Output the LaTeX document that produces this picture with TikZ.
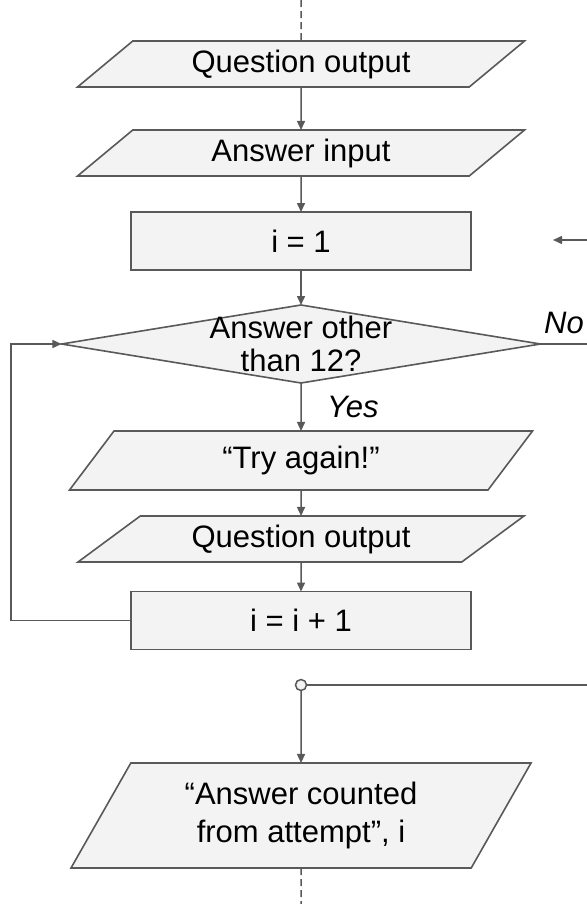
\documentclass[tikz,border=0pt]{standalone}
\usepackage{fontspec}
\setmainfont{Liberation Sans}
\usetikzlibrary{shapes.geometric,arrows.meta}
\definecolor{edgegrey}{HTML}{595959}
\definecolor{boxfill}{HTML}{F3F3F3}
\begin{document}
\begin{tikzpicture}[x=1bp,y=-1bp,
  every node/.style={font=\fontsize{31bp}{36bp}\selectfont, inner sep=0pt, outer sep=0pt},
  shapebase/.style={draw=edgegrey, fill=boxfill, line width=1.6bp},
  procbox/.style={shapebase, rectangle, minimum width=340bp, minimum height=58bp},
  iobox/.style n args={4}{shapebase, trapezium, trapezium stretches body,
    trapezium left angle=#1, trapezium right angle=#2,
    minimum width=#3, minimum height=#4, align=center},
  decision/.style={shapebase, diamond, minimum width=479bp, minimum height=78bp},
  wire/.style={draw=edgegrey, line width=1.5bp},
  conn/.style={wire, -{Triangle[length=9bp,width=8bp]}},
  dashwire/.style={wire, dash pattern=on 7bp off 4bp},
  tag/.style={font=\fontsize{31bp}{36bp}\selectfont\itshape}
]
\useasboundingbox (0,0) rectangle (587,904);

% main column of steps
\node[iobox={27.6}{152.4}{447bp}{46bp}] (qout1) at (301,64) {Question output};
\node[iobox={27.6}{152.4}{447bp}{46bp}] (ain) at (301,153) {Answer input};
\node[procbox] (init) at (301,241) {i = 1};
\node[decision] (test) at (301,344) {};
\node[align=center, font=\fontsize{31bp}{33bp}\selectfont] (testtext) at (301,344) {Answer other\\than 12?};
\node[iobox={33}{147}{463bp}{59bp}] (retry) at (301,460.5) {“Try again!”};
\node[iobox={24.9}{155.1}{446bp}{46bp}] (qout2) at (301,539) {Question output};
\node[procbox] (incr) at (301,620.5) {i = i + 1};
\node[circle, shapebase, line width=1.5bp, minimum size=11bp] (join) at (301,685) {};
\node[iobox={48.2}{131.8}{460bp}{105bp}, font=\fontsize{31bp}{38bp}\selectfont] (result) at (301,815.5) {“Answer counted\\from attempt”, i};

% loose ends at the edges
\coordinate (topin) at (301,0);
\coordinate (botout) at (301,904);
\coordinate (sidein) at (587,240);
\coordinate (sidetip) at (553,240);
\coordinate (noout) at (587,344);
\coordinate (joinout) at (587,685);
\coordinate (loopbot) at (11,620.5);
\coordinate (looptop) at (11,344);

% branch labels
\node[tag, anchor=west] (yeslab) at (327,407) {Yes};
\node[tag] (nolab) at (564,323) {No};

% connectors
\draw[dashwire] (topin) -- (qout1);
\draw[conn] (qout1) -- (ain);
\draw[conn] (ain) -- (init);
\draw[conn] (init) -- (test);
\draw[conn] (test) -- (retry);
\draw[conn] (retry) -- (qout2);
\draw[conn] (qout2) -- (incr);
\draw[conn] (incr.west) -- (loopbot) -- (looptop) -- (test.west);
\draw[wire] (test.east) -- (noout);
\draw[conn] (sidein) -- (sidetip);
\draw[wire] (join) -- (joinout);
\draw[conn] (join) -- (result);
\draw[dashwire] (result) -- (botout);
\end{tikzpicture}
\end{document}
